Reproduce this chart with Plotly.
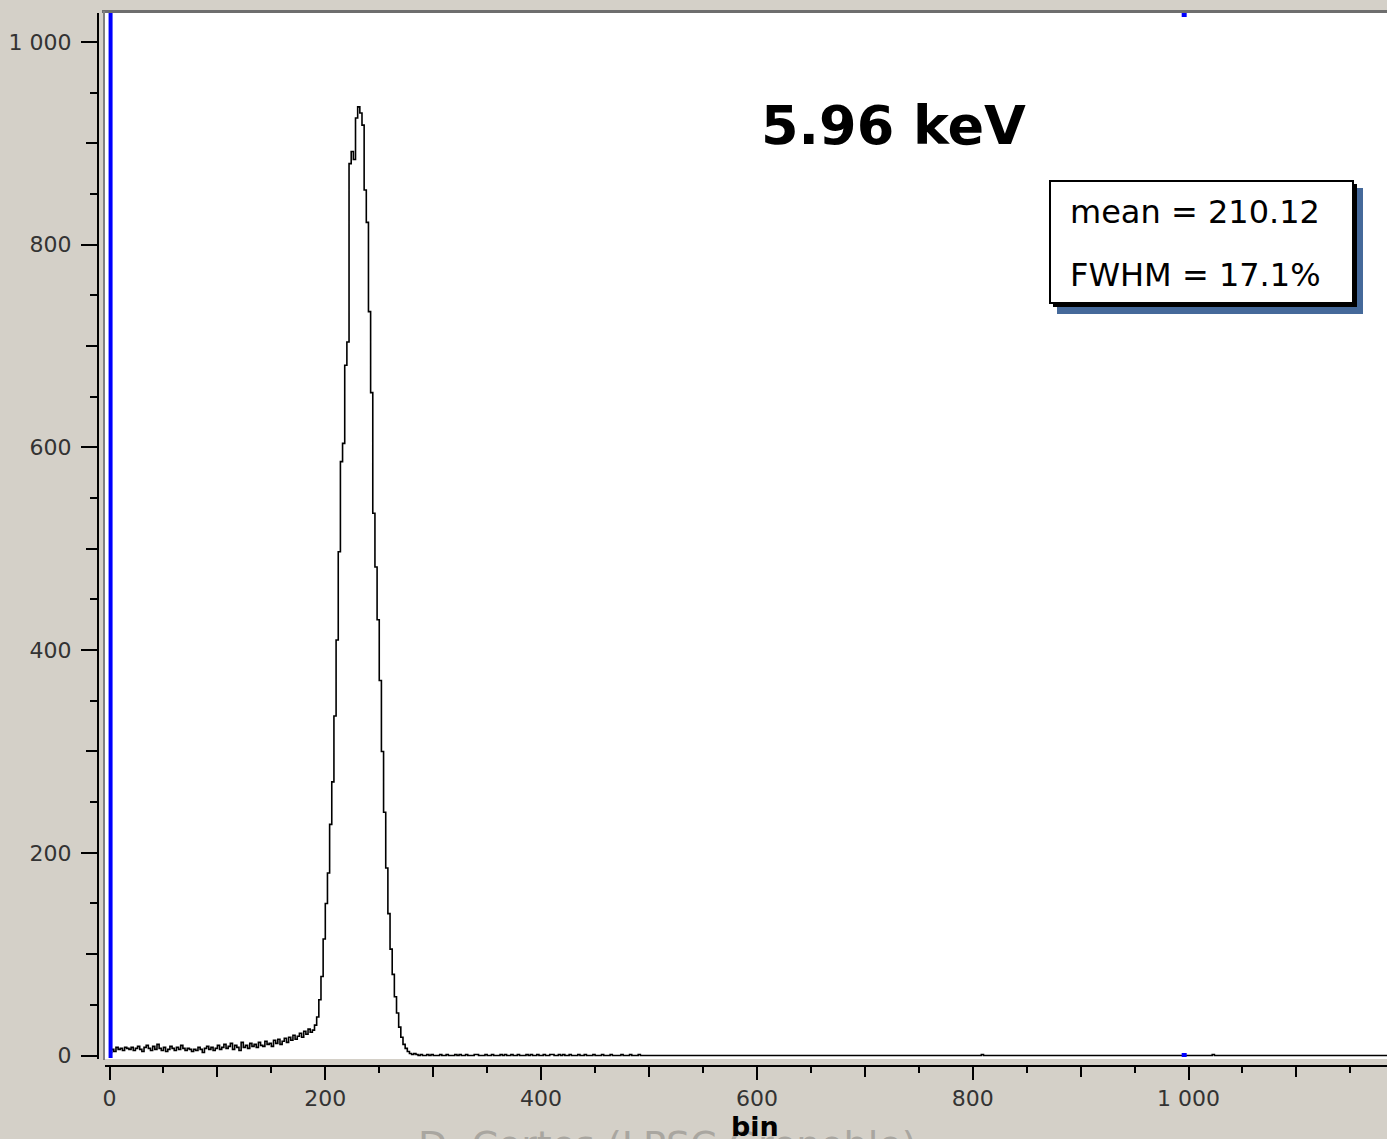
import numpy as np
import plotly.graph_objects as go

# ---------------- data: pulse-height spectrum, 2-channel bins ----------------
BIN_WIDTH = 2

# low-energy noise floor, bins starting at 0, 2, 4, ... 186
noise_counts = [
    3, 6, 4, 8, 6, 7, 5, 8, 7, 6,
    8, 5, 7, 9, 6, 4, 8, 10, 7, 5,
    9, 6, 11, 7, 5, 8, 4, 6, 9, 7,
    5, 8, 6, 10, 7, 5, 7, 6, 4, 6,
    5, 8, 6, 3, 7, 9, 6, 8, 5, 7,
    10, 6, 8, 11, 7, 9, 12, 6, 10, 8,
    5, 13, 8, 10, 7, 12, 9, 11, 8, 13,
    10, 9, 14, 11, 12, 9, 15, 12, 16, 11,
    14, 17, 13, 18, 15, 20, 16, 19, 22, 18,
    24, 21, 26, 23,
]

# photopeak, bins starting at 188, 190, ... 284
peak_counts = [
    25, 30, 38, 55, 78, 115, 150, 180, 228, 270,
    335, 410, 497, 586, 604, 681, 704, 880, 892, 884,
    925, 936, 930, 918, 854, 822, 734, 654, 535, 482,
    430, 370, 300, 240, 185, 140, 105, 80, 58, 42,
    28, 18, 11, 7, 4, 2, 1, 2, 1,
]

# high-energy tail, bins starting at 286, 288, ... 490
tail_counts = [
    0, 1, 0, 0, 1, 0, 1, 0, 0, 0,
    1, 0, 0, 1, 0, 0, 0, 1, 0, 1,
    0, 0, 1, 0, 0, 0, 1, 1, 0, 0,
    0, 1, 0, 0, 1, 0, 0, 0, 1, 0,
    1, 0, 0, 1, 0, 0, 1, 0, 0, 0,
    1, 0, 1, 0, 0, 1, 0, 0, 1, 0,
    0, 1, 1, 0, 0, 1, 0, 1, 0, 0,
    1, 0, 0, 0, 1, 0, 0, 1, 0, 0,
    0, 1, 0, 0, 0, 1, 0, 0, 0, 1,
    0, 0, 0, 0, 1, 0, 0, 0, 1, 0,
    0, 0, 1,
]

# isolated single counts far above the peak
isolated_bins = [808, 1022]
isolated_counts = [1, 1]

spectrum_end = 1200
peak_title = "5.96 keV"
stats_lines = ["mean = 210.12", "FWHM = 17.1%"]
x_title = "bin"
credit = "D. Cortes (LPSC Grenoble)"
cursor_bins = [1, 996]

# assemble the full histogram (empty channels are zero)
edges = np.arange(0, spectrum_end + BIN_WIDTH, BIN_WIDTH)
counts = np.zeros(len(edges), dtype=float)
measured = noise_counts + peak_counts + tail_counts
counts[: len(measured)] = measured
for b, c in zip(isolated_bins, isolated_counts):
    counts[b // BIN_WIDTH] = c

# ---------------- layout geometry (pixels) ----------------
FIG_W, FIG_H = 1387, 1139
L, R, T, B = 98, 0, 11, 73
W = FIG_W - L - R
H = FIG_H - T - B
PLOT_BOTTOM = FIG_H - B


def px_x(px):
    return (px - L) / W


def px_y(py):
    return (PLOT_BOTTOM - py) / H


X_DOMAIN = [px_x(105), 1.0]
Y_DOMAIN = [px_y(1059), px_y(13)]
X_RANGE = [-4.17, 1183.96]
Y_RANGE = [-3.45, 1028.6]

BG = "#d4d0c8"
TICK_FONT = dict(family="DejaVu Sans", size=22, color="#333333")

fig = go.Figure()

fig.add_trace(go.Scatter(
    x=edges, y=counts, mode="lines",
    line=dict(shape="hv", color="black", width=1.6),
    hoverinfo="skip", showlegend=False,
))
# companion axes carry the intermediate (100-step) ticks
fig.add_trace(go.Scatter(x=[None], y=[None], xaxis="x2", yaxis="y2",
                         showlegend=False, hoverinfo="skip"))

common_axis = dict(showgrid=False, zeroline=False, showline=True,
                   linecolor="black", linewidth=2, ticks="outside",
                   tickcolor="black", tickwidth=2, fixedrange=True)

fig.update_layout(
    width=FIG_W, height=FIG_H,
    margin=dict(l=L, r=R, t=T, b=B, pad=0),
    paper_bgcolor=BG, plot_bgcolor=BG,
    separators=". ",
    showlegend=False,
    xaxis=dict(
        **common_axis, domain=X_DOMAIN, range=X_RANGE,
        anchor="free", position=0,
        tick0=0, dtick=200, ticklen=13,
        separatethousands=True, tickfont=TICK_FONT, ticklabelstandoff=0,
        minor=dict(dtick=50, tick0=0, ticklen=6, tickcolor="black",
                   tickwidth=2, ticks="outside"),
    ),
    yaxis=dict(
        **common_axis, domain=Y_DOMAIN, range=Y_RANGE,
        anchor="free", position=0,
        tick0=0, dtick=200, ticklen=16,
        separatethousands=True, tickfont=TICK_FONT, ticklabelstandoff=5,
        minor=dict(dtick=50, tick0=0, ticklen=7, tickcolor="black",
                   tickwidth=2, ticks="outside"),
    ),
    xaxis2=dict(
        overlaying="x", domain=X_DOMAIN, range=X_RANGE,
        anchor="free", position=0, side="bottom",
        showgrid=False, zeroline=False, showline=False,
        ticks="outside", ticklen=10, tickwidth=2, tickcolor="black",
        tickvals=list(range(100, 1200, 200)), showticklabels=False,
        fixedrange=True,
    ),
    yaxis2=dict(
        overlaying="y", domain=Y_DOMAIN, range=Y_RANGE,
        anchor="free", position=0, side="left",
        showgrid=False, zeroline=False, showline=False,
        ticks="outside", ticklen=12, tickwidth=2, tickcolor="black",
        tickvals=list(range(100, 1100, 200)), showticklabels=False,
        fixedrange=True,
    ),
)

shapes = [
    # white canvas of the histogram frame
    dict(type="rect", xref="paper", yref="paper", layer="below",
         x0=px_x(105), x1=1.0, y0=px_y(1059), y1=px_y(13),
         fillcolor="white", line=dict(width=0)),
    # frame edges
    dict(type="line", xref="paper", yref="paper",
         x0=px_x(102), x1=1.0, y0=px_y(11.5), y1=px_y(11.5),
         line=dict(color="#6e6e6e", width=3)),
    dict(type="line", xref="paper", yref="paper",
         x0=px_x(104), x1=px_x(104), y0=px_y(1060), y1=px_y(11),
         line=dict(color="#808080", width=2)),
    # cursor markers
    dict(type="line", xref="x", yref="paper",
         x0=cursor_bins[0], x1=cursor_bins[0], y0=px_y(1058), y1=px_y(13),
         line=dict(color="#0000ff", width=4)),
    dict(type="line", xref="x", yref="paper",
         x0=cursor_bins[1], x1=cursor_bins[1], y0=px_y(1057), y1=px_y(1053),
         line=dict(color="#0000ff", width=5)),
    dict(type="line", xref="x", yref="paper",
         x0=cursor_bins[1], x1=cursor_bins[1], y0=px_y(17), y1=px_y(13),
         line=dict(color="#0000ff", width=5)),
    # statistics box: blue drop shadow, black shadow, white panel
    dict(type="rect", xref="paper", yref="paper",
         x0=px_x(1057), x1=px_x(1363), y0=px_y(314), y1=px_y(188),
         fillcolor="#45699a", line=dict(width=0)),
    dict(type="rect", xref="paper", yref="paper",
         x0=px_x(1053), x1=px_x(1357), y0=px_y(307), y1=px_y(184),
         fillcolor="black", line=dict(width=0)),
    dict(type="rect", xref="paper", yref="paper",
         x0=px_x(1050), x1=px_x(1353), y0=px_y(303), y1=px_y(181),
         fillcolor="white", line=dict(color="black", width=2)),
]
fig.update_layout(shapes=shapes)

annotations = [
    dict(text=f"<b>{peak_title}</b>", xref="paper", yref="paper",
         x=px_x(893), y=px_y(125), xanchor="center", yanchor="middle",
         showarrow=False,
         font=dict(family="DejaVu Sans", size=54, color="black")),
    dict(text=stats_lines[0], xref="paper", yref="paper",
         x=px_x(1068), y=px_y(212), xanchor="left", yanchor="middle",
         showarrow=False,
         font=dict(family="DejaVu Sans", size=32, color="black")),
    dict(text=stats_lines[1], xref="paper", yref="paper",
         x=px_x(1068), y=px_y(275), xanchor="left", yanchor="middle",
         showarrow=False,
         font=dict(family="DejaVu Sans", size=32, color="black")),
    dict(text=credit, xref="paper", yref="paper",
         x=px_x(667), y=px_y(1145), xanchor="center", yanchor="middle",
         showarrow=False,
         font=dict(family="DejaVu Sans", size=38, color="#a9a6a0")),
    dict(text=f"<b>{x_title}</b>", xref="paper", yref="paper",
         x=px_x(755), y=px_y(1126), xanchor="center", yanchor="middle",
         showarrow=False,
         font=dict(family="DejaVu Sans", size=27, color="black")),
]
fig.update_layout(annotations=annotations)

fig.write_html("out.html")
